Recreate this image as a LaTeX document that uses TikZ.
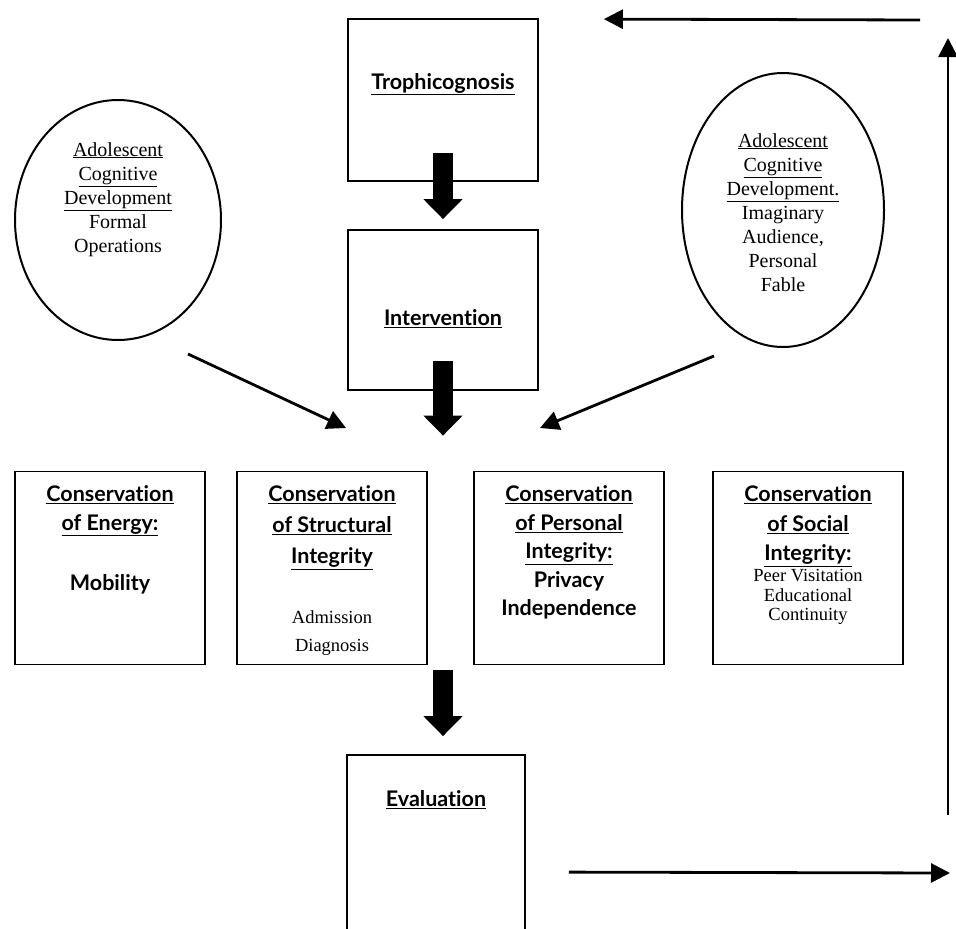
\documentclass[tikz,border=0pt]{standalone}
\usepackage{fontspec}
\setmainfont{Liberation Serif}
\newfontfamily\boxsans[Ligatures={NoCommon}]{Lato}
\usetikzlibrary{shapes.geometric,arrows.meta,calc}
\newcommand\srftxt{\rmfamily\mdseries\fontsize{18.5}{26}\selectfont}

\begin{document}
\begin{tikzpicture}[x=1pt,y=-1pt,
  cbox/.style={draw,line width=1.8pt,minimum width=190pt,minimum height=193pt,inner sep=0pt},
  oval/.style={draw,ellipse,line width=2pt,inner sep=0pt},
  hd/.style={font=\boxsans\bfseries\fontsize{21.5}{28.5}\selectfont,align=center,inner sep=0pt,anchor=north},
  ot/.style={font=\rmfamily\fontsize{20}{24}\selectfont,align=center,inner sep=0pt,anchor=north},
  blk/.style={line width=20pt,-{Triangle[width=38pt,length=20pt]}},
  arr/.style={line width=2.8pt,-{Triangle[width=19pt,length=19pt]}}]
\clip (0,0) rectangle (956,929);
% ---------- Column: nursing process ----------
\node[cbox,minimum height=162pt,label={[hd,yshift=-55pt]north:\underline{Trophicognosis}}] (troph) at (443,100) {};
\node[cbox,minimum height=160pt,label={[hd,yshift=-80pt]north:\underline{Intervention}}] (interv) at (443,310) {};
\node[cbox,minimum width=178pt,minimum height=200pt,label={[hd,yshift=-36pt]north:\underline{Evaluation}}] (eval) at (436,855) {};
\draw[blk] ([yshift=29pt]troph.south) -- ([yshift=10pt]interv.north);
% ---------- Ellipses: developmental stage ----------
\node[oval,minimum width=206pt,minimum height=240pt,
  label={[ot,yshift=-43pt]north:\underline{Adolescent}\\\underline{Cognitive}\\\underline{Development}\\Formal\\Operations}] (adlL) at (118,220) {};
\node[oval,minimum width=202pt,minimum height=274pt,
  label={[ot,yshift=-61pt]north:\underline{Adolescent}\\\underline{Cognitive}\\\underline{Development.}\\Imaginary\\{Audience,}\\Personal\\Fable}] (adlR) at (783,210) {};
\coordinate (mergeL) at (346,428);
\coordinate (mergeR) at (540,428);
\draw[arr] ($(adlL.south)+(70,13)$) -- (mergeL);
\draw[arr] ($(adlR.south)+(-69,8)$) -- (mergeR);
% ---------- Row: conservation principles ----------
\node[cbox,label={[hd,yshift=-15pt]north:\underline{Conservation}\\\underline{of Energy:}\\[31.5pt]Mobility}] (energy) at (110,568) {};
\node[cbox,label={[hd,yshift=-15pt]north:\underline{Conservation}\\[2.5pt]\underline{of Structural}\\[2.5pt]\underline{Integrity}\\[31pt]{\srftxt Admission}\\{\srftxt Diagnosis}}] (struct) at (332,568) {};
\node[cbox,label={[hd,yshift=-15pt]north:\underline{Conservation}\\\underline{of Personal}\\\underline{Integrity:}\\Privacy\\Independence}] (person) at (569,568) {};
\node[cbox,label={[hd,yshift=-15pt]north:\underline{Conservation}\\[1pt]\underline{of Social}\\[1pt]\underline{Integrity:}\\[-8pt]{\srftxt Peer Visitation}\\[-8pt]{\srftxt Educational}\\[-10pt]{\srftxt Continuity}}] (social) at (808,568) {};
\draw[blk] ($(interv.south)+(0,-30)$) -- ($(interv.south |- struct.north)+(0,-35)$);
\draw[blk] ($(interv.south |- struct.south)+(0,5)$) -- ($(interv.south |- eval.north)+(0,-18)$);
% ---------- Feedback loop ----------
\coordinate (lpEnd) at (950,873);
\coordinate (lpLow) at (948,815);
\coordinate (lpHigh) at (948,38);
\coordinate (lpTop) at (920,20);
\draw[arr] ($(eval.north east)+(43,118)$) -- (lpEnd);
\draw[arr] (lpLow) -- (lpHigh);
\draw[arr] (lpTop) -- ($(troph.north east)+(65,1)$);
\end{tikzpicture}
\end{document}
